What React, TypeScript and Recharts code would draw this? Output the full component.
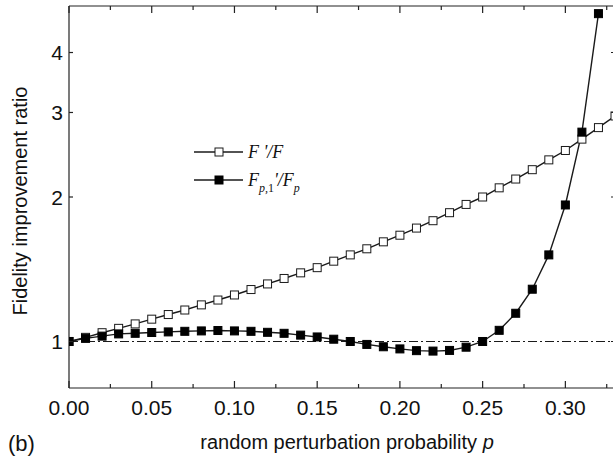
import React from "react";
import {
  LineChart,
  Line,
  XAxis,
  YAxis,
  ReferenceLine,
} from "recharts";

// perturbation probability p (x values)
const pValues = [
  0, 0.01, 0.02, 0.03, 0.04, 0.05, 0.06, 0.07, 0.08, 0.09, 0.1, 0.11, 0.12,
  0.13, 0.14, 0.15, 0.16, 0.17, 0.18, 0.19, 0.2, 0.21, 0.22, 0.23, 0.24, 0.25,
  0.26, 0.27, 0.28, 0.29, 0.3, 0.31, 0.32, 0.33,
];

// F'/F (open squares)
const ratioF = [
  1.0, 1.02, 1.043, 1.065, 1.088, 1.113, 1.138, 1.163, 1.192, 1.22, 1.25,
  1.283, 1.318, 1.353, 1.39, 1.425, 1.47, 1.515, 1.56, 1.613, 1.665, 1.723,
  1.785, 1.855, 1.93, 2.0, 2.09, 2.18, 2.28, 2.39, 2.5, 2.64, 2.79, 2.95,
];

// F_{p,1}'/F_p (filled squares)
const ratioFp1 = [
  1.0, 1.015, 1.026, 1.037, 1.04, 1.044, 1.047, 1.05, 1.052, 1.054, 1.052,
  1.05, 1.045, 1.04, 1.031, 1.022, 1.011, 1.0, 0.986, 0.975, 0.965, 0.957,
  0.955, 0.958, 0.973, 1.0, 1.055, 1.145, 1.285, 1.515, 1.925, 2.73, 4.82, null,
];

const xMajorTicks = [0, 0.05, 0.1, 0.15, 0.2, 0.25, 0.3];
const xMinorTicks = [0.025, 0.075, 0.125, 0.175, 0.225, 0.275, 0.325];
const yTicks = [1, 2, 3, 4];

const data = pValues.map((p, i) => ({
  p,
  f: ratioF[i],
  fp: ratioFp1[i],
}));

const allXTicks = [...xMajorTicks, ...xMinorTicks].sort((a, b) => a - b);

const axisColor = "#222";
const lineColor = "#1a1a1a";
const sansFont = "'Liberation Sans', Arial, sans-serif";
const serifFont = "'Liberation Serif', 'Times New Roman', serif";

const isMajor = (v: number) => xMajorTicks.some((t) => Math.abs(t - v) < 1e-9);

function BottomTick(props: any) {
  const { x, y, payload } = props;
  const major = isMajor(payload.value);
  return (
    <g>
      <line
        x1={x}
        y1={y}
        x2={x}
        y2={y - (major ? 7 : 4)}
        stroke={axisColor}
        strokeWidth={1.2}
      />
      {major && (
        <text
          x={x}
          y={y + 27}
          textAnchor="middle"
          fontSize={21}
          fontFamily={sansFont}
          fill="#111"
        >
          {payload.value.toFixed(2)}
        </text>
      )}
    </g>
  );
}

function TopTick(props: any) {
  const { x, y, payload } = props;
  const major = isMajor(payload.value);
  return (
    <line
      x1={x}
      y1={y}
      x2={x}
      y2={y + (major ? 7 : 4)}
      stroke={axisColor}
      strokeWidth={1.2}
    />
  );
}

function LeftTick(props: any) {
  const { x, y, payload } = props;
  return (
    <g>
      <line x1={x} y1={y} x2={x + 4} y2={y} stroke={axisColor} strokeWidth={1.2} />
      <text
        x={x - 6}
        y={y + 7.5}
        textAnchor="end"
        fontSize={21}
        fontFamily={sansFont}
        fill="#111"
      >
        {payload.value}
      </text>
    </g>
  );
}

function RightTick(props: any) {
  const { x, y } = props;
  return <line x1={x} y1={y} x2={x - 4} y2={y} stroke={axisColor} strokeWidth={1.2} />;
}

function OpenSquare(props: any) {
  const { cx, cy, index } = props;
  if (cx == null || cy == null) return <g key={`o-${index}`} />;
  return (
    <rect
      key={`o-${index}`}
      x={cx - 4}
      y={cy - 4}
      width={8}
      height={8}
      fill="#fff"
      stroke={lineColor}
      strokeWidth={1}
    />
  );
}

function FilledSquare(props: any) {
  const { cx, cy, index } = props;
  if (cx == null || cy == null) return <g key={`f-${index}`} />;
  return (
    <rect
      key={`f-${index}`}
      x={cx - 4}
      y={cy - 4}
      width={8}
      height={8}
      fill="#000"
      stroke="#000"
      strokeWidth={1}
    />
  );
}

export default function App() {
  return (
    <div
      style={{
        position: "absolute",
        left: 0,
        top: 0,
        width: 613,
        height: 462,
        overflow: "hidden",
        background: "#fff",
      }}
    >
      <LineChart
        width={616}
        height={462}
        data={data}
        margin={{ top: 5, right: 0, bottom: 73, left: 68 }}
      >
        <XAxis
          dataKey="p"
          type="number"
          domain={[0, 0.33]}
          allowDataOverflow
          ticks={allXTicks}
          interval={0}
          tickSize={0}
          tickMargin={0}
          tickLine={false}
          height={1}
          axisLine={{ stroke: axisColor, strokeWidth: 1.2 }}
          tick={<BottomTick />}
        />
        <XAxis
          xAxisId="top"
          orientation="top"
          dataKey="p"
          type="number"
          domain={[0, 0.33]}
          allowDataOverflow
          ticks={allXTicks}
          interval={0}
          tickSize={0}
          tickMargin={0}
          tickLine={false}
          height={1}
          axisLine={{ stroke: axisColor, strokeWidth: 1.2 }}
          tick={<TopTick />}
        />
        <YAxis
          type="number"
          scale="log"
          domain={[0.8, 5]}
          allowDataOverflow
          ticks={yTicks}
          interval={0}
          tickSize={0}
          tickMargin={0}
          tickLine={false}
          width={1}
          axisLine={{ stroke: axisColor, strokeWidth: 1.2 }}
          tick={<LeftTick />}
        />
        <YAxis
          yAxisId="right"
          orientation="right"
          type="number"
          scale="log"
          domain={[0.8, 5]}
          allowDataOverflow
          ticks={yTicks}
          interval={0}
          tickSize={0}
          tickMargin={0}
          tickLine={false}
          width={1}
          axisLine={{ stroke: axisColor, strokeWidth: 1.2 }}
          tick={<RightTick />}
        />
        <ReferenceLine
          y={1}
          stroke={lineColor}
          strokeWidth={1.1}
          strokeDasharray="9 3 2 3"
        />
        <Line
          dataKey="f"
          type="linear"
          stroke={lineColor}
          strokeWidth={1.4}
          dot={OpenSquare}
          activeDot={false}
          isAnimationActive={false}
        />
        <Line
          dataKey="fp"
          type="linear"
          stroke={lineColor}
          strokeWidth={1.4}
          dot={FilledSquare}
          activeDot={false}
          connectNulls={false}
          isAnimationActive={false}
        />
      </LineChart>
      <svg
        width={613}
        height={462}
        style={{ position: "absolute", left: 0, top: 0, pointerEvents: "none" }}
      >
        {/* legend */}
        <line x1={194} y1={152} x2={243} y2={152} stroke={lineColor} strokeWidth={1.4} />
        <rect x={215} y={148} width={8} height={8} fill="#fff" stroke={lineColor} />
        <text x={248} y={158} fontSize={18} fontFamily={serifFont} fontStyle="italic" fill="#111">
          F '/F
        </text>
        <line x1={194} y1={180} x2={243} y2={180} stroke={lineColor} strokeWidth={1.4} />
        <rect x={215} y={176} width={8} height={8} fill="#000" stroke="#000" />
        <text x={248} y={186} fontSize={18} fontFamily={serifFont} fontStyle="italic" fill="#111">
          F
          <tspan fontSize={12} dy={6}>p,</tspan>
          <tspan fontSize={12} fontStyle="normal">1</tspan>
          <tspan dy={-6}>'/F</tspan>
          <tspan fontSize={12} dy={6}>p</tspan>
        </text>
        {/* axis titles */}
        <text
          x={347}
          y={449}
          textAnchor="middle"
          fontSize={20}
          fontFamily={sansFont}
          fill="#111"
        >
          random perturbation probability <tspan fontStyle="italic">p</tspan>
        </text>
        <text
          transform="translate(27, 201) rotate(-90)"
          textAnchor="middle"
          fontSize={20}
          fontFamily={sansFont}
          fill="#111"
        >
          Fidelity improvement ratio
        </text>
        <text x={8} y={451} fontSize={22} fontFamily={sansFont} fill="#111">
          (b)
        </text>
      </svg>
    </div>
  );
}
